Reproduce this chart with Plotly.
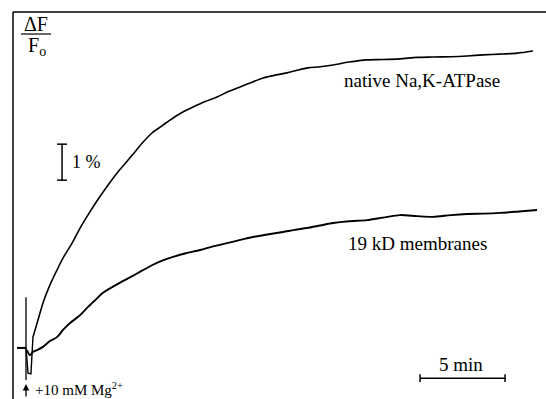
import plotly.graph_objects as go

# ---- data (time in min after Mg2+ addition, signal in % dF/F0) ----
baseline_t = [-0.53, -0.3, 0.0]
baseline_y = [0.03, 0.03, 0.03]

# native enzyme: mixing artefact (dip) then rise
native_dip_t = [0.0, 0.06, 0.12, 0.29, 0.35, 0.41]
native_dip_y = [0.03, -0.44, -0.67, -0.69, -0.17, 0.33]
native_t = [0.41, 0.71, 1.0, 1.41, 1.82, 2.18, 2.71, 3.18, 3.76, 4.3, 4.82, 5.5,
            6.24, 6.8, 7.41, 8.0, 8.47, 9.1, 9.82, 10.5, 11.24, 11.9, 12.59, 13.3,
            13.94, 14.6, 15.35, 16.0, 16.59, 17.3, 18.06, 19.0, 20.06, 21.0, 22.0,
            23.0, 23.94, 25.0, 25.94, 26.9, 27.88, 28.9, 29.82]
native_y = [0.33, 0.81, 1.28, 1.78, 2.19, 2.53, 2.94, 3.36, 3.81, 4.2, 4.55, 4.97,
            5.38, 5.7, 6.0, 6.2, 6.36, 6.55, 6.72, 6.87, 7.0, 7.15, 7.28, 7.41,
            7.53, 7.6, 7.67, 7.75, 7.81, 7.84, 7.89, 7.97, 8.03, 8.04, 8.06,
            8.1, 8.11, 8.12, 8.14, 8.17, 8.19, 8.22, 8.28]

kd19_t = [0.06, 0.24, 0.41, 0.65, 1.0, 1.41, 1.82, 2.18, 2.59, 3.18, 3.65, 4.1,
          4.53, 5.3, 6.12, 6.8, 7.47, 8.05, 8.65, 9.4, 10.24, 11.0, 11.82, 12.6,
          13.35, 14.2, 15.12, 15.8, 16.53, 17.3, 18.06, 19.0, 20.06, 21.0, 22.0,
          23.0, 23.94, 25.0, 25.94, 26.9, 27.88, 29.0, 30.06]
kd19_y = [-0.03, -0.17, -0.08, -0.03, 0.06, 0.22, 0.33, 0.53, 0.72, 0.94, 1.17, 1.37,
          1.56, 1.78, 1.99, 2.17, 2.34, 2.46, 2.56, 2.66, 2.75, 2.85, 2.94, 3.03,
          3.11, 3.18, 3.25, 3.31, 3.36, 3.43, 3.5, 3.55, 3.58, 3.65, 3.72,
          3.69, 3.67, 3.72, 3.75, 3.76, 3.78, 3.82, 3.86]

# injection marker and scale bars (data units)
marker_t = [0.0, 0.0]
marker_y = [1.44, -0.86]
ybar_t = 2.12
ybar_y = [4.69, 5.69]        # 1 %
xbar_t = [23.18, 28.18]      # 5 min
xbar_y = -0.81

labels = {
    "native": "native Na,K-ATPase",
    "kd19": "19 kD membranes",
    "ybar": "1 %",
    "xbar": "5 min",
    "mg": "+10 mM Mg<sup>2+</sup>",
}

W, H = 546, 399
FONT = "Liberation Serif, Times New Roman, serif"

fig = go.Figure()
fig.add_trace(go.Scatter(x=baseline_t, y=baseline_y, mode="lines", line=dict(color="black", width=2)))
fig.add_trace(go.Scatter(x=native_dip_t, y=native_dip_y, mode="lines", line=dict(color="black", width=1.4)))
fig.add_trace(go.Scatter(x=native_t, y=native_y, mode="lines",
                         line=dict(color="black", width=1.6, shape="spline", smoothing=0.8)))
fig.add_trace(go.Scatter(x=kd19_t, y=kd19_y, mode="lines",
                         line=dict(color="black", width=1.9, shape="spline", smoothing=0.8)))
fig.add_trace(go.Scatter(x=marker_t, y=marker_y, mode="lines", line=dict(color="black", width=1.3)))

# 1 % bar with caps
cap_t = 0.29
fig.add_trace(go.Scatter(
    x=[ybar_t, ybar_t, None, ybar_t - cap_t, ybar_t + cap_t, None, ybar_t - cap_t, ybar_t + cap_t],
    y=[ybar_y[0], ybar_y[1], None, ybar_y[0], ybar_y[0], None, ybar_y[1], ybar_y[1]],
    mode="lines", line=dict(color="black", width=1.5)))
# 5 min bar with caps
cap_y = 0.11
fig.add_trace(go.Scatter(
    x=[xbar_t[0], xbar_t[1], None, xbar_t[0], xbar_t[0], None, xbar_t[1], xbar_t[1]],
    y=[xbar_y, xbar_y, None, xbar_y - cap_y, xbar_y + cap_y, None, xbar_y - cap_y, xbar_y + cap_y],
    mode="lines", line=dict(color="black", width=1.5)))

xr = [-26 / 17, 520 / 17]
yr = [-50 / 36, 349 / 36]

def px(x):
    return x / W

def py(y):
    return 1 - y / H

fig.update_layout(
    width=W, height=H, margin=dict(l=0, r=0, t=0, b=0),
    paper_bgcolor="white", plot_bgcolor="white", showlegend=False,
    xaxis=dict(range=xr, visible=False, fixedrange=True),
    yaxis=dict(range=yr, visible=False, fixedrange=True),
    font=dict(family=FONT, color="black"),
    shapes=[
        dict(type="line", xref="paper", yref="paper", x0=px(13), x1=px(13), y0=0, y1=py(12),
             line=dict(color="black", width=1.5)),
        dict(type="line", xref="paper", yref="paper", x0=px(13), x1=1, y0=py(12), y1=py(12),
             line=dict(color="black", width=1.5)),
        dict(type="line", xref="paper", yref="paper", x0=px(21), x1=px(51), y0=py(34), y1=py(34),
             line=dict(color="black", width=1.2)),
    ],
)

ann = []
def add_text(text, x, y, size, xanchor="center"):
    ann.append(dict(text=text, xref="paper", yref="paper", x=px(x), y=py(y), showarrow=False,
                    xanchor=xanchor, yanchor="middle", font=dict(family=FONT, size=size, color="black")))

add_text("ΔF", 36, 24, 20)
add_text("F<sub>o</sub>", 37, 46, 20)
add_text(labels["native"], 422, 80, 19)
add_text(labels["kd19"], 418, 243, 19)
add_text(labels["ybar"], 86, 162, 18)
add_text(labels["xbar"], 461, 364, 19)
add_text(labels["mg"], 33, 389, 15, xanchor="left")
# small upward arrow under the injection marker
ann.append(dict(text="", xref="paper", yref="paper", x=px(26), y=py(384), ax=0, ay=14,
                axref="pixel", ayref="pixel", showarrow=True, arrowhead=2, arrowsize=1,
                arrowwidth=1.3, arrowcolor="black"))
fig.update_layout(annotations=ann)

fig.write_html("out.html")
